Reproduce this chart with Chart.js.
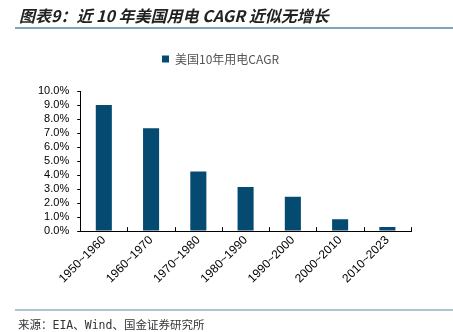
<!DOCTYPE html>
<html>
<head>
<meta charset="utf-8">
<script src="https://cdn.jsdelivr.net/npm/chart.js@4.4.0/dist/chart.umd.min.js"></script>
<style>
  body { margin: 0; background: #fff; }
  #wrap { position: relative; width: 453px; height: 332px; overflow: hidden; }
  #titulo { position: absolute; left: 19px; top: 3px; font: italic bold 16px "Noto Sans CJK SC", sans-serif; color: #222; white-space: nowrap; }
  .linha { position: absolute; left: 15px; right: 0; height: 2px; }
  #fonte { position: absolute; left: 18px; top: 316px; font: 11.5px "DejaVu Sans Mono", "Noto Sans CJK SC", monospace; color: #333; white-space: nowrap; }
  canvas { position: absolute; left: 0; top: 0; }
</style>
</head>
<body>
<div id="wrap">
  <canvas id="grafico" width="453" height="332"></canvas>
  <div id="titulo">图表9：近 10 年美国用电 CAGR 近似无增长</div>
  <div class="linha" style="top:27px;background:#7fa6b8"></div>
  <div class="linha" style="top:309px;background:#aec3cf"></div>
  <div id="fonte">来源：EIA、Wind、国金证券研究所</div>
</div>
<script>
// Dados
const periodos = ['1950~1960', '1960~1970', '1970~1980', '1980~1990', '1990~2000', '2000~2010', '2010~2023'];
const cagr = [9.0, 7.35, 4.25, 3.15, 2.45, 0.85, 0.3];
const serie = '美国10年用电CAGR';

// Espaço extra abaixo da legenda
const legendaGap = {
  id: 'legendaGap',
  beforeInit(chart) {
    const fit = chart.legend.fit;
    chart.legend.fit = function () {
      fit.bind(chart.legend)();
      this.height += 16;
    };
  }
};

// Marcas curtas do eixo x, voltadas para dentro
const marcasX = {
  id: 'marcasX',
  afterDatasetsDraw(chart) {
    const x = chart.scales.x, ctx = chart.ctx;
    const passo = (x.right - x.left) / periodos.length;
    ctx.save();
    ctx.strokeStyle = '#000';
    ctx.lineWidth = 1;
    ctx.beginPath();
    for (let i = 0; i <= periodos.length; i++) {
      const px = Math.round(x.left + i * passo) + 0.5;
      ctx.moveTo(px, x.top);
      ctx.lineTo(px, x.top - 4);
    }
    ctx.stroke();
    ctx.restore();
  }
};

new Chart(document.getElementById('grafico'), {
  type: 'bar',
  data: {
    labels: periodos,
    datasets: [{
      label: serie,
      data: cagr,
      backgroundColor: '#054b71',
      categoryPercentage: 1,
      barPercentage: 0.34
    }]
  },
  options: {
    responsive: false,
    animation: false,
    layout: { padding: { left: 30, right: 42, top: 47, bottom: 44 } },
    plugins: {
      legend: {
        position: 'top',
        labels: {
          boxWidth: 7, boxHeight: 7, padding: 6,
          color: '#555',
          font: { family: '"Noto Sans CJK SC", sans-serif', size: 12 }
        }
      },
      tooltip: { enabled: false }
    },
    scales: {
      x: {
        grid: { display: false, drawTicks: false },
        border: { color: '#000', width: 1 },
        ticks: {
          color: '#000', maxRotation: 45, minRotation: 45, padding: 2,
          font: { family: '"Liberation Sans", Arial', size: 12 }
        }
      },
      y: {
        min: 0, max: 10,
        grid: { drawOnChartArea: false, tickLength: 3, color: '#000' },
        border: { color: '#000', width: 1 },
        ticks: {
          stepSize: 1, autoSkip: false, color: '#000', padding: 8,
          font: { family: '"Liberation Sans", Arial', size: 11 },
          callback: v => v.toFixed(1) + '%'
        }
      }
    }
  },
  plugins: [legendaGap, marcasX]
});
</script>
</body>
</html>
